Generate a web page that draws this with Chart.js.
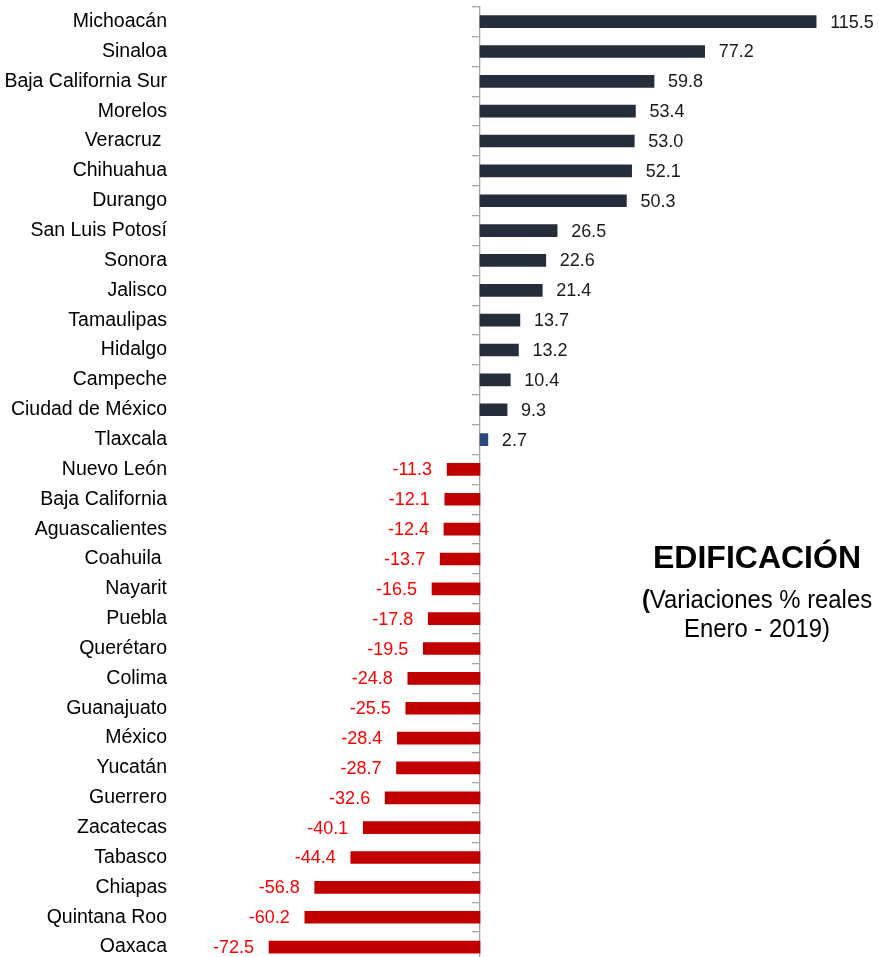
<!DOCTYPE html>
<html>
<head>
<meta charset="utf-8">
<script src="https://cdn.jsdelivr.net/npm/chart.js@4.4.1/dist/chart.umd.min.js"></script>
<style>
  html, body { margin: 0; padding: 0; background: #ffffff; overflow: hidden; }
  #wrap { position: relative; width: 879px; height: 962px; }
  #note { position: absolute; left: 607px; width: 300px; top: 541px; text-align: center; color: #000; font-family: 'Liberation Sans', Arial, sans-serif; }
  #note .t { font-weight: bold; font-size: 32px; line-height: 32px; }
  #note .s { font-size: 26.5px; line-height: 29px; margin-top: 12px; white-space: nowrap; transform: scaleX(0.9); transform-origin: 50% 0; }
</style>
</head>
<body>
<div id="wrap">
  <canvas id="c"></canvas>
  <div id="note">
    <div class="t">EDIFICACIÓN</div>
    <div class="s"><b>(</b>Variaciones % reales<br>Enero - 2019)</div>
  </div>
</div>
<script>
const categories = ["Michoacán","Sinaloa","Baja California Sur","Morelos","Veracruz ","Chihuahua","Durango","San Luis Potosí","Sonora","Jalisco","Tamaulipas","Hidalgo","Campeche","Ciudad de México","Tlaxcala","Nuevo León","Baja California","Aguascalientes","Coahuila ","Nayarit","Puebla","Querétaro","Colima","Guanajuato","México","Yucatán","Guerrero","Zacatecas","Tabasco","Chiapas","Quintana Roo","Oaxaca"];
const variaciones = [115.5,77.2,59.8,53.4,53.0,52.1,50.3,26.5,22.6,21.4,13.7,13.2,10.4,9.3,2.7,-11.3,-12.1,-12.4,-13.7,-16.5,-17.8,-19.5,-24.8,-25.5,-28.4,-28.7,-32.6,-40.1,-44.4,-56.8,-60.2,-72.5];
const highlighted = ["Tlaxcala"];

const COL_POS = '#252D3A';
const COL_HI = '#2B4878';
const COL_NEG = '#C00000';

const valueLabels = {
  id: 'valueLabels',
  afterDatasetsDraw(chart) {
    const ctx = chart.ctx;
    const meta = chart.getDatasetMeta(0);
    ctx.save();
    ctx.font = '18px "Liberation Sans", Arial, sans-serif';
    ctx.textBaseline = 'middle';
    meta.data.forEach((el, i) => {
      const v = variaciones[i];
      const txt = v.toFixed(1);
      if (v >= 0) {
        ctx.fillStyle = '#1a1a1a';
        ctx.textAlign = 'left';
        ctx.fillText(txt, el.x + 14, el.y + 1);
      } else {
        ctx.fillStyle = '#FF0000';
        ctx.textAlign = 'right';
        ctx.fillText(txt, el.x - 15, el.y + 1);
      }
    });
    ctx.restore();
  }
};

new Chart(document.getElementById('c'), {
  type: 'bar',
  data: {
    labels: categories,
    datasets: [{
      data: variaciones,
      backgroundColor: categories.map((c, i) => highlighted.includes(c) ? COL_HI : (variaciones[i] < 0 ? COL_NEG : COL_POS)),
      barThickness: 12,
      xAxisID: 'x',
      yAxisID: 'y'
    }]
  },
  options: {
    indexAxis: 'y',
    responsive: true,
    maintainAspectRatio: false,
    animation: false,
    layout: { padding: { top: 6.7, bottom: 0, left: 0, right: 0 } },
    plugins: { legend: { display: false }, tooltip: { enabled: false }, title: { display: false } },
    scales: {
      x: { type: 'linear', display: false, min: -105.84, max: 137.1 },
      y: {
        type: 'category',
        position: { x: 0 },
        offset: true,
        ticks: { display: false, autoSkip: false },
        grid: { drawOnChartArea: false, drawTicks: true, tickLength: 7, color: '#A6A6A6', lineWidth: 1.3, offset: true },
        border: { display: true, color: '#A6A6A6', width: 1.3 },
        afterFit(scale) { scale.paddingTop = 0; scale.paddingBottom = 0; }
      },
      y2: {
        type: 'category',
        labels: categories,
        position: 'left',
        offset: true,
        grid: { display: false, drawTicks: false, tickLength: 0 },
        border: { display: false },
        ticks: { autoSkip: false, color: '#000', padding: 5, font: { family: '"Liberation Sans", Arial, sans-serif', size: 19.5 } },
        afterFit(scale) { scale.width = 172; scale.paddingTop = 0; scale.paddingBottom = 0; }
      }
    }
  },
  plugins: [valueLabels]
});
</script>
</body>
</html>
